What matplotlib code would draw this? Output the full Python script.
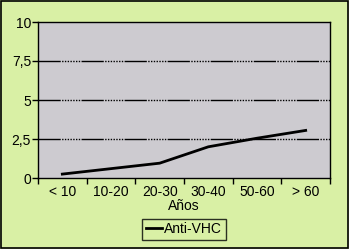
import matplotlib
matplotlib.use("Agg")
import matplotlib.pyplot as plt
from matplotlib.patches import Rectangle

categories = ["< 10", "10-20", "20-30", "30-40", "50-60", "> 60"]
anti_vhc = [0.25, 0.6, 0.95, 2.0, 2.55, 3.05]
yticks = [0, 2.5, 5, 7.5, 10]
ytick_labels = ["0", "2,5", "5", "7,5", "10"]

plt.rcParams['font.family'] = ['Liberation Sans', 'DejaVu Sans']
FS = 10
fig = plt.figure(figsize=(3.49, 2.49), dpi=100, facecolor="#D9F0A5")
ax = fig.add_axes([38/349, 1-178/249, 292/349, 156/249])
ax.set_facecolor("#CDCBD0")

x = list(range(len(categories)))
ax.plot(x, anti_vhc, color="black", lw=2, label="Anti-VHC", zorder=3)
ax.set_xlim(-0.5, len(categories) - 0.5)
ax.set_ylim(0, 10)
ax.set_yticks(yticks)
ax.set_yticklabels(ytick_labels)
ax.set_xticks(x)
ax.set_xticklabels(categories)
ax.set_xticks([i + 0.5 for i in range(-1, len(categories))], minor=True)
ax.tick_params(axis='x', which='major', length=0, labelsize=FS, pad=5)
ax.tick_params(axis='x', which='minor', length=4, direction='out', width=1)
ax.tick_params(axis='y', length=4, direction='out', width=1, labelsize=FS, pad=1)
for s in ax.spines.values():
    s.set_color("black")
    s.set_linewidth(1)
for yv in yticks[1:-1]:
    ax.axhline(yv, color="black", lw=1,
               linestyle=(0, (16, 1, 1, 1, 1, 1, 1, 1, 1, 1, 1, 1, 1, 1, 1, 1)), zorder=2)
ax.set_xlabel("Años", fontsize=FS, labelpad=0)
leg = ax.legend(loc="upper center", bbox_to_anchor=(0.5, -0.26), fontsize=FS,
                frameon=True, fancybox=False, edgecolor="black", facecolor="#D9F0A5",
                handlelength=1.2, handletextpad=0.15, borderpad=0.25, borderaxespad=0)
leg.get_frame().set_linewidth(1)
fig.patches.append(Rectangle((0.003, 0.004), 0.994, 0.992, transform=fig.transFigure,
                             fill=False, edgecolor="black", lw=1.2))
fig.savefig("out.png", dpi=100, facecolor=fig.get_facecolor())
